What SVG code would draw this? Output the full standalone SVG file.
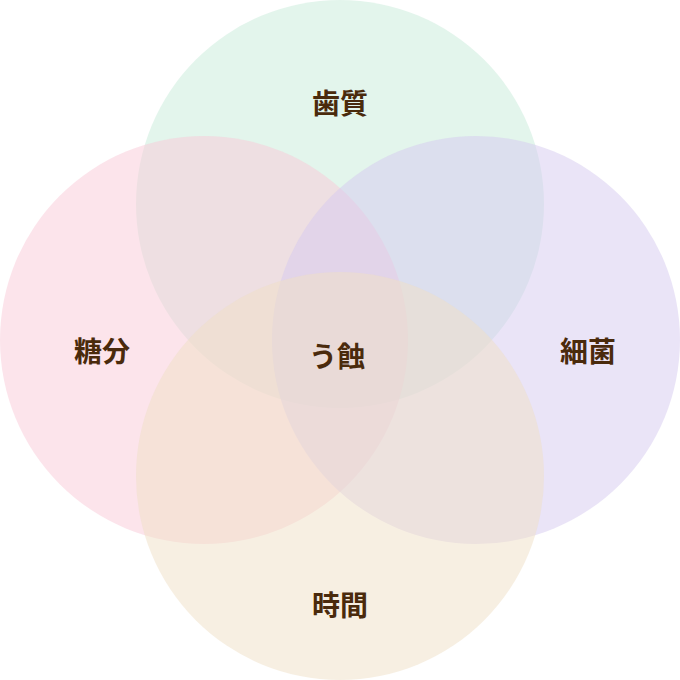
<svg xmlns="http://www.w3.org/2000/svg" width="680" height="680" viewBox="0 0 680 680">
<style>
.c{opacity:0.5}
text{font-family:"Noto Sans CJK JP","Noto Sans",sans-serif;font-weight:bold;fill:#4a2a0c;text-anchor:middle;font-size:28px}
</style>
<rect width="680" height="680" fill="#fff"/>
<g id="top"><circle class="c" cx="340" cy="204" r="204" fill="#c8ecd9"/></g>
<g id="left"><circle class="c" cx="204" cy="340" r="204" fill="#f9c9d8"/></g>
<g id="right"><circle class="c" cx="476" cy="340" r="204" fill="#d6caf0"/></g>
<g id="bottom"><circle class="c" cx="340" cy="476" r="204" fill="#f0e0c6"/></g>
<g id="labels">
<text x="340" y="114">歯質</text>
<text x="102" y="362">糖分</text>
<text x="588" y="362">細菌</text>
<text x="340" y="616">時間</text>
<text x="337" y="367" font-size="36">う蝕</text>
</g>
</svg>
